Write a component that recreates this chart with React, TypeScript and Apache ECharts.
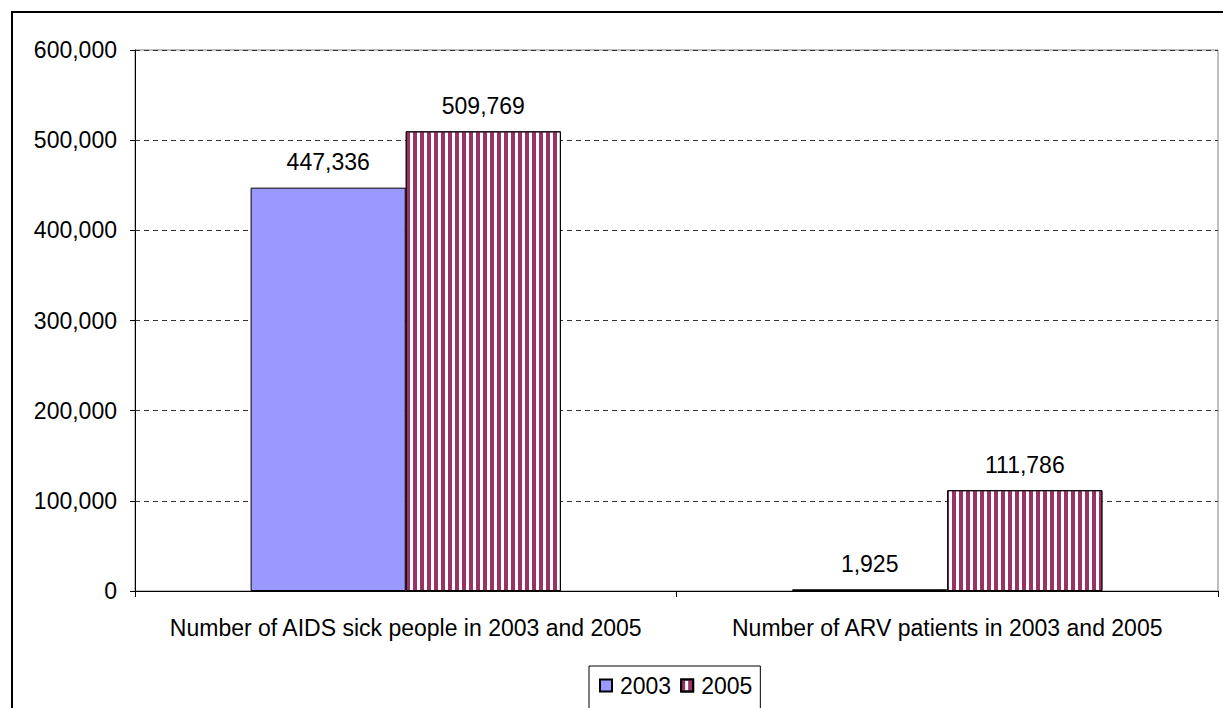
import React, { useEffect, useRef } from "react";
import * as echarts from "echarts";

const categories = [
  "Number of AIDS sick people in 2003 and 2005",
  "Number of ARV patients in 2003 and 2005",
];
const series2003 = [447336, 1925];
const series2005 = [509769, 111786];
const seriesNames = ["2003", "2005"];
const yTicks = [0, 100000, 200000, 300000, 400000, 500000, 600000];

const FONT = "'Liberation Sans', Arial, sans-serif";
const FS = 23;
const fmt = (v: number) => v.toLocaleString("en-US");

export default function App() {
  const ref = useRef<HTMLDivElement>(null);
  useEffect(() => {
    if (!ref.current) return;
    const chart = echarts.init(ref.current, undefined, { renderer: "svg" });
    const label = {
      show: true,
      position: "top" as const,
      distance: 14,
      color: "#000",
      fontFamily: FONT,
      fontSize: FS,
      formatter: (p: any) => fmt(p.value),
    };
    chart.setOption({
      animation: false,
      backgroundColor: "#fff",
      textStyle: { fontFamily: FONT },
      graphic: [
        {
          type: "rect",
          shape: { x: 12, y: 12, width: 1400, height: 900 },
          style: { fill: "none", stroke: "#000", lineWidth: 2 },
          silent: true,
          z: -10,
        },
      ],
      grid: {
        left: 135,
        top: 50,
        right: 5,
        bottom: 117,
        show: true,
        borderColor: "#808080",
        borderWidth: 1,
      },
      legend: {
        data: seriesNames,
        icon: "rect",
        left: 589,
        top: 666,
        orient: "horizontal",
        itemWidth: 12,
        itemHeight: 12,
        itemGap: 9,
        padding: [8, 8, 40, 10],
        borderColor: "#000",
        borderWidth: 1,
        backgroundColor: "#fff",
        textStyle: { fontFamily: FONT, fontSize: FS, color: "#000", padding: [0, 0, 0, 3] },
      },
      xAxis: {
        type: "category",
        data: categories,
        axisLine: { show: true, lineStyle: { color: "#000", width: 1 } },
        axisTick: { show: true, length: 6, lineStyle: { color: "#000" } },
        axisLabel: { color: "#000", fontSize: FS, fontFamily: FONT, margin: 25, interval: 0 },
      },
      yAxis: {
        type: "value",
        min: yTicks[0],
        max: yTicks[yTicks.length - 1],
        interval: yTicks[1] - yTicks[0],
        axisLine: { show: true, lineStyle: { color: "#000", width: 1 } },
        axisTick: { show: true, length: 5, lineStyle: { color: "#000" } },
        axisLabel: {
          color: "#000",
          fontSize: FS,
          fontFamily: FONT,
          margin: 18,
          formatter: (v: number) => fmt(v),
        },
        splitLine: { show: true, lineStyle: { color: "#333", type: [5, 4], width: 1 } },
      },
      series: [
        {
          name: seriesNames[0],
          type: "bar",
          data: series2003,
          barGap: "0%",
          barCategoryGap: "42.7%",
          itemStyle: { color: "#9999FF", borderColor: "#000", borderWidth: 1 },
          label,
        },
        {
          name: seriesNames[1],
          type: "bar",
          data: series2005,
          barGap: "0%",
          barCategoryGap: "42.7%",
          itemStyle: {
            color: "#ffffff",
            borderColor: "#000",
            borderWidth: 1,
            decal: {
              symbol: "rect",
              symbolSize: 1,
              color: "#993366",
              dashArrayX: [4, 3],
              dashArrayY: [7, 0],
              rotation: 0,
            },
          },
          label,
        },
      ],
    });
    return () => chart.dispose();
  }, []);
  return (
    <div
      ref={ref}
      style={{ position: "fixed", left: 0, top: 0, width: 1223, height: 708 }}
    />
  );
}
